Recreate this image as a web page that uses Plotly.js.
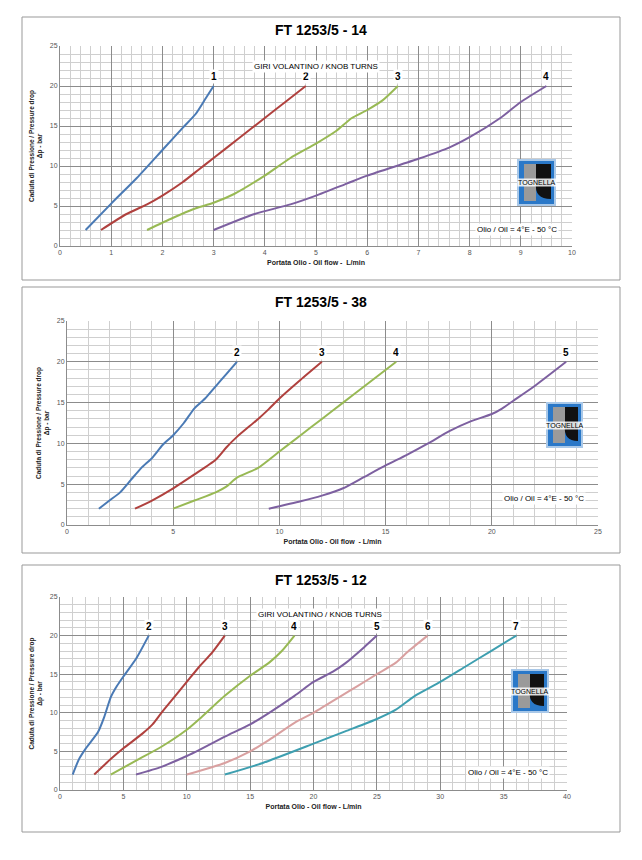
<!DOCTYPE html><html><head><meta charset="utf-8"><script src="https://cdn.plot.ly/plotly-3.0.1.min.js"></script>
<style>body{margin:0;background:#fff}</style></head><body><div id="c" style="width:642px;height:860px"></div><script>
// Panel 1: FT 1253/5 - 14
const p1_x1=[0.5,1,1.5,2,2.4,2.65,2.85,3], p1_y1=[2,5.3,8.5,12,14.8,16.5,18.5,20];
const p1_x2=[0.8,1.3,1.7,2,2.4,2.7,3,3.5,4,4.4,4.8], p1_y2=[2,4,5.2,6.3,8,9.5,11,13.5,16,18,20];
const p1_x3=[1.7,2.2,2.6,3,3.4,4,4.5,5,5.4,5.7,6,6.3,6.6], p1_y3=[2,3.5,4.6,5.4,6.5,8.8,11,12.8,14.4,16,17,18.2,20];
const p1_x4=[3,3.8,4.5,5,5.6,6,7,7.6,8,8.6,9,9.5], p1_y4=[2,4,5.2,6.3,7.8,8.8,10.9,12.3,13.6,16,18,20];
// Panel 2: FT 1253/5 - 38
const p2_x2=[1.5,2,2.5,3,3.5,4,4.5,5,5.5,6,6.5,7,7.5,8], p2_y2=[2,3,4,5.5,7,8.2,9.8,11,12.5,14.3,15.5,17,18.5,20];
const p2_x3=[3.2,4,5,6,7,7.5,8,9,9.5,10,11,12], p2_y3=[2,3,4.5,6.2,8,9.5,10.8,13,14.2,15.5,17.8,20];
const p2_x4=[5,6,7,7.5,8,9,10,11,12,13,14,15.5], p2_y4=[2,3,4,4.7,5.8,7,9,11,13,15,17,20];
const p2_x5=[9.5,11,12,13,14,15,16,17,18,19,20,20.5,21,22,23.5], p2_y5=[2,2.9,3.6,4.5,5.9,7.3,8.6,10,11.5,12.7,13.6,14.3,15.2,17,20];
// Panel 3: FT 1253/5 - 12
const p3_x2=[1,1.5,2,3,3.5,4,4.5,5,6,7], p3_y2=[2,4,5.3,7.5,9.5,12,13.5,14.7,17,20];
const p3_x3=[2.7,4,5,6.5,7.3,8,9,10,11,12,13], p3_y3=[2,4,5.4,7.3,8.5,10,12,14,16,17.8,20];
const p3_x4=[4,6,8,10,11,13,15,16.5,17.5,18.5], p3_y4=[2,3.8,5.6,7.8,9.2,12.2,14.8,16.5,18,20];
const p3_x5=[6,8,10,11,13,15,16.5,18.5,20,21.5,22.5,24,25], p3_y5=[2,3,4.4,5.2,6.9,8.5,10,12.2,14,15.3,16.4,18.5,20];
const p3_x6=[10,13,15,16.5,18.5,20,22,23.5,25,26.5,27.5,29], p3_y6=[2,3.5,5,6.5,8.7,10,12,13.5,15,16.5,18,20];
const p3_x7=[13,16,20,22.5,25,26.5,28,30,32,34,36], p3_y7=[2,3.5,6,7.6,9.2,10.4,12.2,14,16,18,20];
const titles=["FT 1253/5 - 14","FT 1253/5 - 38","FT 1253/5 - 12"];
const xTitles=["Portata Olio - Oil flow -  L/min","Portata Olio - Oil flow  - L/min","Portata Olio - Oil flow - L/min"];
const C={b:'#4a7ab5',r:'#b0413e',g:'#98b954',p:'#7d60a0',k:'#d9a0a0',t:'#3e9fb0'};
const W=642,H=860;
const panels=[
 {series:[[p1_x1,p1_y1,'1',C.b],[p1_x2,p1_y2,'2',C.r],[p1_x3,p1_y3,'3',C.g],[p1_x4,p1_y4,'4',C.p]],
  px:[60,572],py:[46,246],box:[22,17,620,280],xmax:10,dt:1,mdt:0.2,knob:[5,22.5],oil:[517,229],logo:[518,160,555,205],ty:30},
 {series:[[p2_x2,p2_y2,'2',C.b],[p2_x3,p2_y3,'3',C.r],[p2_x4,p2_y4,'4',C.g],[p2_x5,p2_y5,'5',C.p]],
  px:[67,598],py:[321,525],box:[22,287,620,553],xmax:25,dt:5,mdt:1,knob:null,oil:[544,498],logo:[547,403,582,447],ty:302},
 {series:[[p3_x2,p3_y2,'2',C.b],[p3_x3,p3_y3,'3',C.r],[p3_x4,p3_y4,'4',C.g],[p3_x5,p3_y5,'5',C.p],[p3_x6,p3_y6,'6',C.k],[p3_x7,p3_y7,'7',C.t]],
  px:[60,567],py:[597,790],box:[22,565,620,832],xmax:40,dt:5,mdt:1,knob:[20.5,22.7],oil:[508,772],logo:[512,670,548,712],ty:580}
];
const F="Liberation Sans Narrow, Arial Narrow, Liberation Sans, sans-serif";
const data=[],shapes=[],ann=[];const layout={width:W,height:H,margin:{l:0,r:0,t:0,b:0},showlegend:false,paper_bgcolor:'#fff',plot_bgcolor:'#fff',font:{family:F}};
panels.forEach((P,i)=>{
 const n=i+1, xa='x'+(n>1?n:''), ya='y'+(n>1?n:'');
 P.series.forEach(s=>{
  data.push({x:s[0],y:s[1],xaxis:xa,yaxis:ya,mode:'lines',line:{color:s[3],width:2,shape:'spline',smoothing:0.6},hoverinfo:'skip'});
  ann.push({xref:xa,yref:ya,x:s[0][s[0].length-1],y:20,xanchor:'center',text:'<b>'+s[2]+'</b>',showarrow:false,yanchor:'bottom',yshift:2,bgcolor:'#fff',font:{size:10,color:'#000',family:F}});
 });
 const ax={domain:[P.px[0]/W,P.px[1]/W],range:[0,P.xmax],dtick:P.dt,tick0:0,showgrid:true,gridcolor:'#8c8c8c',gridwidth:1,zeroline:false,
  showline:true,linecolor:'#8c8c8c',ticks:'',tickfont:{size:7,color:'#555'},anchor:ya,
  minor:{dtick:P.mdt,showgrid:true,gridcolor:'#cfcfcf',gridwidth:1},
  title:{text:'<b>'+xTitles[i]+'</b>',font:{size:7,color:'#222'},standoff:4}};
 const ay={domain:[1-P.py[1]/H,1-P.py[0]/H],range:[0,25],dtick:5,showgrid:true,gridcolor:'#8c8c8c',zeroline:false,showline:true,linecolor:'#8c8c8c',
  ticks:'',tickfont:{size:7,color:'#555'},anchor:xa,minor:{dtick:1,showgrid:true,gridcolor:'#cfcfcf'},
  title:{text:'<b>Caduta di Pressione / Pressure drop<br>Δp - bar</b>',font:{size:6.5,color:'#222'},standoff:6}};
 layout['xaxis'+(n>1?n:'')]=ax;layout['yaxis'+(n>1?n:'')]=ay;
 shapes.push({type:'rect',xref:'paper',yref:'paper',x0:P.box[0]/W,x1:P.box[2]/W,y0:1-P.box[3]/H,y1:1-P.box[1]/H,line:{color:'#999',width:1}});
 ann.push({xref:'paper',yref:'paper',x:(P.box[0]+P.box[2])/2/W,y:1-P.ty/H,xanchor:'center',yanchor:'middle',text:'<b>'+titles[i]+'</b>',showarrow:false,font:{size:14,color:'#000',family:F}});
 if(P.knob) ann.push({xref:xa,yref:ya,x:P.knob[0],y:P.knob[1],xanchor:'center',text:'GIRI VOLANTINO / KNOB TURNS',showarrow:false,bgcolor:'#fff',font:{size:8,color:'#000',family:F}});
 ann.push({xref:'paper',yref:'paper',x:P.oil[0]/W,y:1-P.oil[1]/H,xanchor:'center',yanchor:'middle',text:'Olio / Oil = 4°E - 50 °C',showarrow:false,bgcolor:'#fff',font:{size:8,color:'#000',family:F}});
 const L=P.logo;
 shapes.push({type:'rect',xref:'paper',yref:'paper',x0:L[0]/W,x1:L[2]/W,y0:1-L[3]/H,y1:1-L[1]/H,fillcolor:'#2a78c8',line:{color:'#a9c8e8',width:2}});
 shapes.push({type:'rect',xref:'paper',yref:'paper',x0:(L[0]+6)/W,x1:(L[0]+18)/W,y0:1-(L[3]-4)/H,y1:1-(L[1]+4)/H,fillcolor:'#9a9a9a',line:{width:0}});
 shapes.push({type:'path',xref:'paper',yref:'paper',path:`M ${(L[0]+18)/W} ${1-(L[1]+4)/H} L ${(L[2]-4)/W} ${1-(L[1]+4)/H} L ${(L[2]-4)/W} ${1-(L[3]-6)/H} Q ${(L[0]+16)/W} ${1-(L[3]-6)/H} ${(L[0]+18)/W} ${1-((L[1]+L[3])/2)/H} Z`,fillcolor:'#111',line:{width:0}});
 ann.push({xref:'paper',yref:'paper',x:(L[0]+L[2])/2/W,y:1-((L[1]+L[3])/2)/H,xanchor:'center',yanchor:'middle',text:'TOGNELLA',showarrow:false,bgcolor:'rgba(255,255,255,0.85)',borderpad:0,font:{size:7,color:'#000',family:F}});
});
layout.shapes=shapes;layout.annotations=ann;
Plotly.newPlot('c',data,layout,{staticPlot:true});
</script></body></html>
